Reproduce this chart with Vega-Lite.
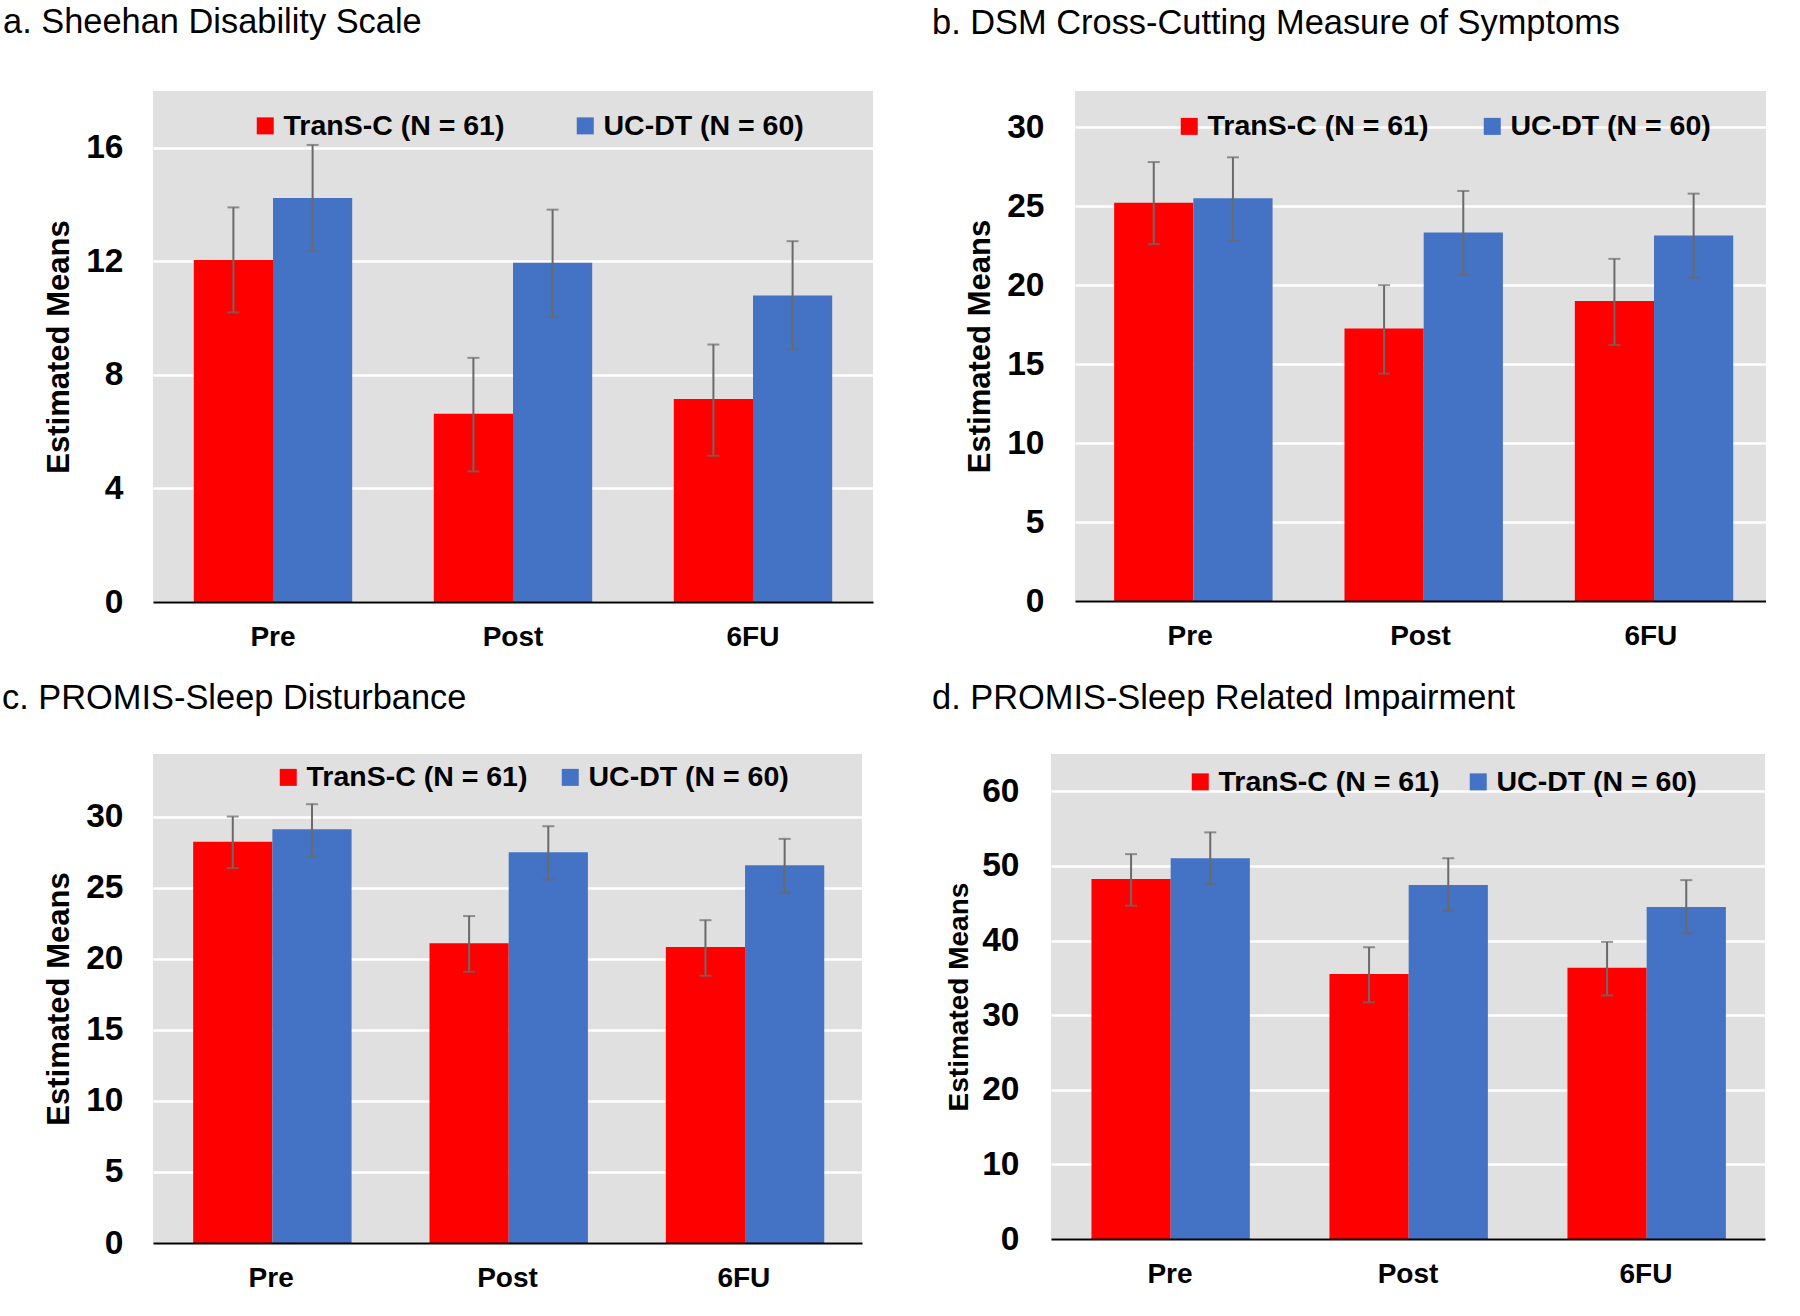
{
  "$schema": "https://vega.github.io/schema/vega-lite/v6.json",
  "background": "white",
  "padding": {"left": 2, "top": 4, "right": 0, "bottom": 0},
  "datasets": {
    "sds": [
      {"time": "Pre", "group": "TranS-C (N = 61)", "mean": 12.05, "lo": 10.2, "hi": 13.9},
      {"time": "Pre", "group": "UC-DT (N = 60)", "mean": 14.23, "lo": 12.36, "hi": 16.1},
      {"time": "Post", "group": "TranS-C (N = 61)", "mean": 6.63, "lo": 4.6, "hi": 8.6},
      {"time": "Post", "group": "UC-DT (N = 60)", "mean": 11.95, "lo": 10.04, "hi": 13.82},
      {"time": "6FU", "group": "TranS-C (N = 61)", "mean": 7.15, "lo": 5.15, "hi": 9.07},
      {"time": "6FU", "group": "UC-DT (N = 60)", "mean": 10.8, "lo": 8.9, "hi": 12.71}
    ],
    "dsm": [
      {"time": "Pre", "group": "TranS-C (N = 61)", "mean": 25.23, "lo": 22.6, "hi": 27.8},
      {"time": "Pre", "group": "UC-DT (N = 60)", "mean": 25.5, "lo": 22.8, "hi": 28.1},
      {"time": "Post", "group": "TranS-C (N = 61)", "mean": 17.26, "lo": 14.4, "hi": 20.0},
      {"time": "Post", "group": "UC-DT (N = 60)", "mean": 23.34, "lo": 20.66, "hi": 25.97},
      {"time": "6FU", "group": "TranS-C (N = 61)", "mean": 19.0, "lo": 16.22, "hi": 21.67},
      {"time": "6FU", "group": "UC-DT (N = 60)", "mean": 23.15, "lo": 20.47, "hi": 25.8}
    ],
    "psd": [
      {"time": "Pre", "group": "TranS-C (N = 61)", "mean": 28.23, "lo": 26.37, "hi": 30.0},
      {"time": "Pre", "group": "UC-DT (N = 60)", "mean": 29.1, "lo": 27.2, "hi": 30.87},
      {"time": "Post", "group": "TranS-C (N = 61)", "mean": 21.08, "lo": 19.08, "hi": 23.0},
      {"time": "Post", "group": "UC-DT (N = 60)", "mean": 27.49, "lo": 25.57, "hi": 29.32},
      {"time": "6FU", "group": "TranS-C (N = 61)", "mean": 20.82, "lo": 18.8, "hi": 22.71},
      {"time": "6FU", "group": "UC-DT (N = 60)", "mean": 26.57, "lo": 24.66, "hi": 28.43}
    ],
    "psri": [
      {"time": "Pre", "group": "TranS-C (N = 61)", "mean": 48.26, "lo": 44.67, "hi": 51.58},
      {"time": "Pre", "group": "UC-DT (N = 60)", "mean": 51.03, "lo": 47.55, "hi": 54.5},
      {"time": "Post", "group": "TranS-C (N = 61)", "mean": 35.53, "lo": 31.72, "hi": 39.1},
      {"time": "Post", "group": "UC-DT (N = 60)", "mean": 47.44, "lo": 44.02, "hi": 51.03},
      {"time": "6FU", "group": "TranS-C (N = 61)", "mean": 36.34, "lo": 32.64, "hi": 39.82},
      {"time": "6FU", "group": "UC-DT (N = 60)", "mean": 44.5, "lo": 40.97, "hi": 48.1}
    ]
  },
  "config": {
    "view": {"fill": "#e0e0e0", "stroke": null},
    "font": "Liberation Sans",
    "axis": {"labelFont": "Liberation Sans", "titleFont": "Liberation Sans", "labelColor": "black", "titleColor": "black"},
    "title": {"font": "Liberation Sans", "fontWeight": "normal", "color": "black", "anchor": "start", "frame": "group", "baseline": "alphabetic", "fontSize": 34.4}
  },
  "resolve": {"scale": {"color": "independent"}, "legend": {"color": "independent"}},
  "vconcat": [
    {
      "resolve": {"scale": {"color": "independent"}, "legend": {"color": "independent"}},
      "hconcat": [
        {
          "title": {"text": "a. Sheehan Disability Scale", "dx": -150, "offset": 51},
          "width": 720, "height": 511,
          "data": {"name": "sds"},
          "encoding": {
            "x": {"field": "time", "type": "nominal", "sort": ["Pre", "Post", "6FU"], "scale": {"paddingInner": 0.34, "paddingOuter": 0.17},
              "axis": {"title": null, "labelAngle": 0, "labelFontSize": 28, "labelFontWeight": "bold", "labelPadding": 21, "ticks": false, "tickSize": 0, "domainColor": "black", "domainWidth": 2, "zindex": 1}},
            "xOffset": {"field": "group", "type": "nominal"}
          },
          "layer": [
            {"mark": {"type": "bar"},
             "encoding": {
               "y": {"field": "mean", "type": "quantitative", "title": "Estimated Means", "scale": {"domain": [0, 18], "nice": false},
                 "axis": {"values": [0, 4, 8, 12, 16], "labelFontSize": 33.5, "labelFontWeight": "bold", "labelPadding": 30, "ticks": false, "tickSize": 0, "domain": false, "gridColor": "white", "gridWidth": 2.5, "titleFontSize": 31, "titleFontWeight": "bold", "titlePadding": 10}},
               "color": {"field": "group", "type": "nominal", "scale": {"domain": ["TranS-C (N = 61)", "UC-DT (N = 60)"], "range": ["#ff0000", "#4472c4"]},
                 "legend": {"orient": "none", "legendX": 98, "legendY": 20.5, "direction": "horizontal", "title": null, "symbolType": "square", "symbolSize": 289, "symbolStrokeWidth": 0, "symbolOpacity": 1, "labelFontSize": 28.5, "labelFont": "Liberation Sans", "labelFontWeight": "bold", "labelColor": "black", "labelOffset": 4, "columnPadding": 66, "padding": 0, "labelLimit": 0}}
             }},
            {"mark": {"type": "rule", "color": "#6a6a6a", "strokeWidth": 2},
             "encoding": {"y": {"field": "lo", "type": "quantitative", "title": "Estimated Means"}, "y2": {"field": "hi"}}},
            {"mark": {"type": "tick", "color": "#6a6a6a", "thickness": 2, "size": 12},
             "encoding": {"y": {"field": "lo", "type": "quantitative", "title": "Estimated Means"}}},
            {"mark": {"type": "tick", "color": "#6a6a6a", "thickness": 2, "size": 12},
             "encoding": {"y": {"field": "hi", "type": "quantitative", "title": "Estimated Means"}}}
          ]
        },
        {
          "title": {"text": "b. DSM Cross-Cutting Measure of Symptoms", "dx": -143, "offset": 50},
          "width": 691, "height": 510,
          "data": {"name": "dsm"},
          "encoding": {
            "x": {"field": "time", "type": "nominal", "sort": ["Pre", "Post", "6FU"], "scale": {"paddingInner": 0.34, "paddingOuter": 0.17},
              "axis": {"title": null, "labelAngle": 0, "labelFontSize": 28, "labelFontWeight": "bold", "labelPadding": 21, "ticks": false, "tickSize": 0, "domainColor": "black", "domainWidth": 2, "zindex": 1}},
            "xOffset": {"field": "group", "type": "nominal"}
          },
          "layer": [
            {"mark": {"type": "bar"},
             "encoding": {
               "y": {"field": "mean", "type": "quantitative", "title": "Estimated Means", "scale": {"domain": [0, 32.3], "nice": false},
                 "axis": {"values": [0, 5, 10, 15, 20, 25, 30], "labelFontSize": 33.5, "labelFontWeight": "bold", "labelPadding": 31, "ticks": false, "tickSize": 0, "domain": false, "gridColor": "white", "gridWidth": 2.5, "titleFontSize": 31, "titleFontWeight": "bold", "titlePadding": 10}},
               "color": {"field": "group", "type": "nominal", "scale": {"domain": ["TranS-C (N = 61)", "UC-DT (N = 60)"], "range": ["#ff0000", "#4472c4"]},
                 "legend": {"orient": "none", "legendX": 100, "legendY": 21, "direction": "horizontal", "title": null, "symbolType": "square", "symbolSize": 289, "symbolStrokeWidth": 0, "symbolOpacity": 1, "labelFontSize": 28.5, "labelFont": "Liberation Sans", "labelFontWeight": "bold", "labelColor": "black", "labelOffset": 4, "columnPadding": 49, "padding": 0, "labelLimit": 0}}
             }},
            {"mark": {"type": "rule", "color": "#6a6a6a", "strokeWidth": 2},
             "encoding": {"y": {"field": "lo", "type": "quantitative", "title": "Estimated Means"}, "y2": {"field": "hi"}}},
            {"mark": {"type": "tick", "color": "#6a6a6a", "thickness": 2, "size": 12},
             "encoding": {"y": {"field": "lo", "type": "quantitative", "title": "Estimated Means"}}},
            {"mark": {"type": "tick", "color": "#6a6a6a", "thickness": 2, "size": 12},
             "encoding": {"y": {"field": "hi", "type": "quantitative", "title": "Estimated Means"}}}
          ]
        }
      ],
      "spacing": 59
    },
    {
      "resolve": {"scale": {"color": "independent"}, "legend": {"color": "independent"}},
      "hconcat": [
        {
          "title": {"text": "c. PROMIS-Sleep Disturbance", "dx": -151, "offset": 38},
          "width": 709, "height": 489,
          "data": {"name": "psd"},
          "encoding": {
            "x": {"field": "time", "type": "nominal", "sort": ["Pre", "Post", "6FU"], "scale": {"paddingInner": 0.34, "paddingOuter": 0.17},
              "axis": {"title": null, "labelAngle": 0, "labelFontSize": 28, "labelFontWeight": "bold", "labelPadding": 21, "ticks": false, "tickSize": 0, "domainColor": "black", "domainWidth": 2, "zindex": 1}},
            "xOffset": {"field": "group", "type": "nominal"}
          },
          "layer": [
            {"mark": {"type": "bar"},
             "encoding": {
               "y": {"field": "mean", "type": "quantitative", "title": "Estimated Means", "scale": {"domain": [0, 34.4], "nice": false},
                 "axis": {"values": [0, 5, 10, 15, 20, 25, 30], "labelFontSize": 33.5, "labelFontWeight": "bold", "labelPadding": 30, "ticks": false, "tickSize": 0, "domain": false, "gridColor": "white", "gridWidth": 2.5, "titleFontSize": 31, "titleFontWeight": "bold", "titlePadding": 10}},
               "color": {"field": "group", "type": "nominal", "scale": {"domain": ["TranS-C (N = 61)", "UC-DT (N = 60)"], "range": ["#ff0000", "#4472c4"]},
                 "legend": {"orient": "none", "legendX": 121, "legendY": 9, "direction": "horizontal", "title": null, "symbolType": "square", "symbolSize": 289, "symbolStrokeWidth": 0, "symbolOpacity": 1, "labelFontSize": 28.5, "labelFont": "Liberation Sans", "labelFontWeight": "bold", "labelColor": "black", "labelOffset": 4, "columnPadding": 28, "padding": 0, "labelLimit": 0}}
             }},
            {"mark": {"type": "rule", "color": "#6a6a6a", "strokeWidth": 2},
             "encoding": {"y": {"field": "lo", "type": "quantitative", "title": "Estimated Means"}, "y2": {"field": "hi"}}},
            {"mark": {"type": "tick", "color": "#6a6a6a", "thickness": 2, "size": 12},
             "encoding": {"y": {"field": "lo", "type": "quantitative", "title": "Estimated Means"}}},
            {"mark": {"type": "tick", "color": "#6a6a6a", "thickness": 2, "size": 12},
             "encoding": {"y": {"field": "hi", "type": "quantitative", "title": "Estimated Means"}}}
          ]
        },
        {
          "title": {"text": "d. PROMIS-Sleep Related Impairment", "dx": -119, "offset": 38},
          "width": 714, "height": 485,
          "data": {"name": "psri"},
          "encoding": {
            "x": {"field": "time", "type": "nominal", "sort": ["Pre", "Post", "6FU"], "scale": {"paddingInner": 0.34, "paddingOuter": 0.17},
              "axis": {"title": null, "labelAngle": 0, "labelFontSize": 28, "labelFontWeight": "bold", "labelPadding": 21, "ticks": false, "tickSize": 0, "domainColor": "black", "domainWidth": 2, "zindex": 1}},
            "xOffset": {"field": "group", "type": "nominal"}
          },
          "layer": [
            {"mark": {"type": "bar"},
             "encoding": {
               "y": {"field": "mean", "type": "quantitative", "title": "Estimated Means", "scale": {"domain": [0, 65], "nice": false},
                 "axis": {"values": [0, 10, 20, 30, 40, 50, 60], "labelFontSize": 33.5, "labelFontWeight": "bold", "labelPadding": 32, "ticks": false, "tickSize": 0, "domain": false, "gridColor": "white", "gridWidth": 2.5, "titleFontSize": 28, "titleFontWeight": "bold", "titlePadding": 8}},
               "color": {"field": "group", "type": "nominal", "scale": {"domain": ["TranS-C (N = 61)", "UC-DT (N = 60)"], "range": ["#ff0000", "#4472c4"]},
                 "legend": {"orient": "none", "legendX": 135, "legendY": 13.5, "direction": "horizontal", "title": null, "symbolType": "square", "symbolSize": 289, "symbolStrokeWidth": 0, "symbolOpacity": 1, "labelFontSize": 28.5, "labelFont": "Liberation Sans", "labelFontWeight": "bold", "labelColor": "black", "labelOffset": 4, "columnPadding": 24, "padding": 0, "labelLimit": 0}}
             }},
            {"mark": {"type": "rule", "color": "#6a6a6a", "strokeWidth": 2},
             "encoding": {"y": {"field": "lo", "type": "quantitative", "title": "Estimated Means"}, "y2": {"field": "hi"}}},
            {"mark": {"type": "tick", "color": "#6a6a6a", "thickness": 2, "size": 12},
             "encoding": {"y": {"field": "lo", "type": "quantitative", "title": "Estimated Means"}}},
            {"mark": {"type": "tick", "color": "#6a6a6a", "thickness": 2, "size": 12},
             "encoding": {"y": {"field": "hi", "type": "quantitative", "title": "Estimated Means"}}}
          ]
        }
      ],
      "spacing": 70
    }
  ],
  "spacing": 29
}
